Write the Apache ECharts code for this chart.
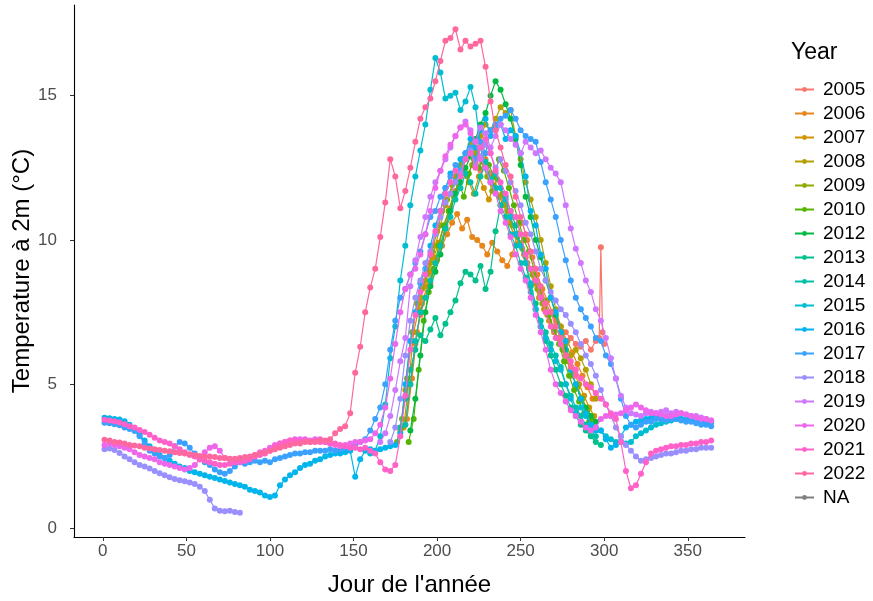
<!DOCTYPE html>
<html><head><meta charset="utf-8">
<script src="https://cdn.jsdelivr.net/npm/echarts@6/dist/echarts.min.js"></script>
<style>html,body{margin:0;padding:0;background:#fff}#c{width:873px;height:601px}</style>
</head><body><div id="c"></div>
<script>
const years = ['2005','2006','2007','2008','2009','2010','2012','2013','2014','2015','2016','2017','2018','2019','2020','2021','2022','NA'];
const colors = ['#F8766D','#E7861B','#D19400','#B3A000','#8FAA00','#55B400','#00BA42','#00C08B','#00C1A7','#00BDD1','#00B5EC','#3AA1FF','#9A8FFF','#CF78FF','#EE67EB','#FF61C9','#FF689F','#7F7F7F'];
const xTicks = [0,50,100,150,200,250,300,350];
const yTicks = [0,5,10,15];

// each year: list of [startDay, stepDays, values]
const t2005 = [[181,3,[3.6,5.0,6.4,7.4,8.0,8.5,9.2,9.8,10.5,11.1,
  11.7,12.2,12.8,13.2,12.9,12.4,12.8,12.3,11.8,11.5,
  11.2,10.8,10.2,9.8,9.4,9.0,8.6,8.2,7.8,7.5,
  7.2,7.0,6.8,6.6,6.4,6.3,6.5,6.2,6.5]],[297,1,[6.6,9.75,6.8,6.4]]];
const t2006 = [[182,3,[3.8,5.2,6.8,7.8,8.4,8.9,9.3,9.8,10.2,10.6,
  10.9,10.4,10.7,10.1,10.0,9.8,9.5,9.9,9.6,9.3,
  9.1,9.5,10.2,10.6,10.0,9.4,8.8,8.3,7.9,7.5,
  7.1,6.8,6.5,6.1,5.7,5.3,4.9,4.5]]];
const t2007 = [[180,3,[3.5,5.0,6.8,7.6,8.4,8.9,9.4,9.9,10.5,11.0,
  11.5,11.9,12.4,12.0,11.6,12.2,11.8,11.4,11.9,11.5,
  11.2,10.6,10.2,9.9,9.5,9.0,8.5,8.0,7.6,7.2,
  6.8,6.6,6.2,5.8,5.4,5.0,4.6,4.2,3.9]]];
const t2008 = [[178,3,[3.4,4.8,6.5,7.5,8.0,8.6,9.2,9.8,10.5,11.2,
  11.6,12.2,12.6,13.0,13.3,13.0,13.6,14.0,13.8,14.2,
  14.6,14.4,14.5,13.6,12.8,12.0,11.4,10.8,10.0,9.2,
  8.4,7.6,7.0,6.4,6.0,6.2,5.9,5.5,5.0,4.5]]];
const t2009 = [[176,3,[3.0,3.8,5.2,6.8,7.8,8.3,8.8,9.6,10.3,11.0,
  11.4,11.9,12.3,12.8,12.2,12.6,13.1,12.7,12.2,11.7,
  12.1,11.6,11.0,10.5,10.1,9.7,9.2,8.8,8.3,7.8,
  7.4,7.0,6.6,6.2,5.8,5.3,4.9,4.5,4.1,3.8]]];
const t2010 = [[183,3,[3.0,3.8,5.5,7.2,8.2,9.0,9.8,10.5,11.0,11.6,
  12.0,11.5,12.3,12.8,12.5,13.0,12.6,12.2,12.8,12.4,
  11.8,11.2,10.6,10.0,9.6,9.0,8.4,7.9,7.4,6.9,
  6.4,5.8,5.3,4.8,4.4,4.0,3.7,3.5]]];
const t2012 = [[184,3,[3.4,4.5,6.0,7.5,8.4,8.9,9.5,10.4,11.0,11.6,
  12.0,12.5,12.9,13.5,14.0,14.4,15.0,15.5,15.2,14.7,
  14.2,13.5,12.6,11.5,10.8,10.0,9.4,8.6,8.0,7.4,
  6.8,6.2,5.5,5.0,4.5,4.2,3.9,3.7]]];
const t2013 = [[178,3,[3.5,4.5,5.5,6.2,6.7,6.5,6.9,7.3,6.7,7.1,
  7.5,7.9,8.5,8.9,8.8,8.6,9.1,8.3,8.9,10.3,
  11.2,11.5,11.0,10.5,9.8,9.2,8.4,7.8,7.0,6.5,
  6.0,5.5,5.0,4.6,4.2,3.9,3.6,3.4,3.2,3.0,
  2.9]]];
const t2014 = [[181,3,[3.6,5.0,6.5,7.5,8.0,8.6,9.2,9.8,10.4,10.8,
  11.4,11.8,12.3,12.0,11.6,12.2,12.7,12.1,11.8,11.2,
  10.8,10.2,9.8,9.2,8.7,8.2,7.6,7.2,6.8,6.4,
  6.0,5.6,5.0,4.6,4.2,3.9,3.6,3.4,3.2]]];
const t2015 = [[160,3,[2.6,2.7,3.2,4.3,5.9,7.0,8.6,9.8,11.2,12.2,
  13.1,14.0,15.2,16.3,15.8,14.9,15.0,15.1,14.5,14.8,
  15.3,14.6,13.2,12.5,12.0,12.3,11.8,11.4,10.8,10.2,
  9.8,9.2,8.5,7.6,7.0,6.6,6.2,5.8,5.5,5.0,
  4.5,4.0,4.2,3.9,3.6,3.5,3.4,3.2,3.1,3.0,
  3.0,2.95,3.0,3.2,3.3,3.4,3.5,3.6,3.65,3.7,
  3.75,3.8,3.8,3.8,3.8,3.75,3.75,3.7,3.7]]];
const t2016 = [[1,3,[3.84,3.82,3.80,3.78,3.72,3.60,3.45,3.25,3.05,2.85,
  2.70,2.55,2.45,2.35,2.25,2.15,2.10,2.00,1.95,1.90,
  1.85,1.80,1.75,1.70,1.65,1.60,1.55,1.50,1.45,1.35,
  1.30,1.25,1.15,1.10,1.15,1.50,1.70,1.85,1.95,2.10,
  2.20,2.25,2.35,2.40,2.50,2.55,2.60,2.60,2.65,2.70,
  1.80,2.40,2.70,2.75,2.70,2.75,2.80,2.85,2.90,3.30,
  5.0,6.5,7.5,8.5,9.0,9.8,10.5,11.0,11.8,12.3,
  12.0,12.8,13.0,13.5,13.2,13.8,14.2,13.6,13.9,14.0,
  13.5,13.8,13.6,13.0,12.2,11.0,10.5,9.5,9.0,8.0,
  7.5,6.8,6.5,5.5,5.0,4.5,4.0,3.6,3.4,3.4,
  3.1,2.8,2.9,3.2,3.5,3.6,3.7,3.75,3.8,3.85,
  3.9,3.85,3.9,3.9,3.85,3.8,3.8,3.85,3.8,3.75,
  3.7,3.7]]];
const t2017 = [[1,3,[3.67,3.65,3.62,3.58,3.50,3.45,3.38,3.20,2.95,2.70,
  2.60,2.50,2.45,2.55,2.85,3.00,2.95,2.80,2.60,2.40,
  2.30,2.20,2.05,1.95,1.90,2.00,2.15,2.30,2.25,2.30,
  2.35,2.30,2.35,2.30,2.40,2.45,2.50,2.55,2.60,2.60,
  2.65,2.65,2.70,2.70,2.70,2.75,2.70,2.75,2.80,2.85,
  2.90,3.00,3.10,3.40,3.80,4.20,5.00,6.20,7.20,8.00,
  8.3,8.8,9.2,9.6,10.2,10.8,11.0,11.5,11.8,12.2,
  12.6,12.4,13.0,13.2,12.8,13.4,13.0,13.8,14.0,14.2,
  14.3,14.5,14.2,13.8,13.6,13.5,13.4,12.7,12.0,11.4,
  10.8,10.0,9.3,8.6,8.0,7.6,7.3,7.0,6.6,6.5,
  6.0,5.7,5.2,4.5,3.9,3.6,3.5,3.6,3.7,3.7,
  3.8,3.8,3.75,3.8,3.8,3.75,3.7,3.7,3.65,3.6,
  3.6,3.55]]];
const t2018 = [[1,3,[2.75,2.78,2.72,2.62,2.50,2.40,2.30,2.20,2.15,2.08,
  2.00,1.92,1.85,1.78,1.72,1.68,1.64,1.60,1.55,1.45,
  1.30,1.00,0.70,0.62,0.60,0.62,0.58,0.55]],
  [172,3,[3.0,3.5,4.5,6.0,7.2,8.0,8.6,9.2,9.6,10.2,10.8,11.3,11.6,
  12.0,12.3,12.8,13.1,12.6,12.9,13.3,13.0,12.5,12.8,
  12.4,12.0,11.7,11.2,10.6,10.2,9.6,9.0,8.6,8.2,
  7.9,7.6,7.4,7.1,6.8,6.4,6.0,5.7,5.3,4.8,
  4.3,3.9,3.5,3.2,2.9,2.7,2.5,2.35,2.4,2.45,
  2.5,2.55,2.6,2.6,2.65,2.7,2.7,2.75,2.75,2.8,
  2.8,2.8]]];
const t2019 = [[166,3,[3.0,3.3,3.9,4.8,5.8,6.6,8.4,9.3,10.1,10.8,
  11.5,12.0,12.4,12.8,13.2,13.6,13.9,14.1,13.8,13.4,
  13.9,13.7,13.2,13.6,14.0,13.8,13.5,13.3,13.0,13.4,
  13.2,13.0,13.1,12.8,12.5,12.3,12.0,11.2,10.4,9.7,
  9.2,8.6,8.2,7.6,7.2,6.6,5.9,5.2,4.6,4.2,
  4.0,3.95,3.9,4.0,4.05,4.0,4.05,4.1,4.0,4.05,
  4.0,3.95,3.9,3.9,3.85,3.8,3.75]]];
const t2020 = [[1,3,[2.90,2.95,2.90,2.85,2.80,2.75,2.65,2.55,2.50,2.45,
  2.40,2.30,2.25,2.20,2.15,2.10,2.05,2.10,2.20,2.40,
  2.65,2.80,2.85,2.70,2.45,2.40,2.35,2.30,2.35,2.45,
  2.55,2.65,2.70,2.80,2.90,2.95,3.00,3.05,3.10,3.10,
  3.10,3.05,3.10,3.10,3.00,2.95,2.90,2.85,2.90,2.95,
  3.00,3.00,3.05,3.10,3.30,3.60,4.20,5.20,6.40,7.50,
  8.3,8.8,9.0,9.5,10.2,11.0,11.8,12.4,12.9,13.3,
  13.6,13.9,14.0,13.7,13.4,12.8,12.5,12.0,11.6,11.0,
  10.6,10.1,9.5,9.0,8.6,8.0,7.4,6.8,6.2,5.5,
  5.0,4.7,4.4,4.1,3.9,3.7,3.5,3.4,3.5,3.8,
  3.9,3.9,3.95,4.0,4.1,4.2,4.3,4.2,4.1,4.0,
  4.0,3.95,3.9,3.9,3.95,4.0,3.95,3.9,3.85,3.8,
  3.8,3.75]]];
const t2021 = [[1,3,[3.77,3.75,3.72,3.68,3.62,3.55,3.50,3.42,3.35,3.25,
  3.15,3.05,3.00,2.95,2.85,2.75,2.65,2.55,2.50,2.40,
  2.35,2.30,2.25,2.20,2.20,2.25,2.30,2.35,2.35,2.40,
  2.50,2.55,2.60,2.70,2.85,2.95,3.00,3.05,3.05,3.00,
  3.05,3.00,3.05,3.00,3.00,2.95,2.95,2.90,2.85,2.80,
  2.80,2.75,2.80,2.70,2.60,2.30,2.05,2.00,2.20,3.20,
  4.6,6.2,7.4,8.2,8.8,9.5,10.3,11.0,11.6,12.0,
  12.4,12.2,12.8,13.0,12.5,13.2,13.5,13.0,12.4,12.0,
  11.6,11.0,10.8,10.2,9.5,9.0,8.6,8.0,7.5,7.0,
  6.6,6.4,6.0,5.8,5.5,5.2,5.0,4.9,4.7,4.5,
  4.3,4.0,3.8,3.0,2.0,1.4,1.5,1.9,2.3,2.6,
  2.7,2.75,2.8,2.85,2.85,2.9,2.9,2.95,2.95,3.0,
  3.0,3.05]]];
const t2022 = [[1,3,[3.08,3.05,3.00,2.98,2.95,2.90,2.88,2.85,2.80,2.78,
  2.75,2.72,2.70,2.68,2.65,2.62,2.60,2.58,2.55,2.52,
  2.50,2.50,2.48,2.45,2.45,2.42,2.42,2.45,2.48,2.50,
  2.55,2.60,2.65,2.70,2.75,2.80,2.85,2.90,2.95,2.95,
  3.00,3.00,3.00,3.05,3.05,3.10,3.30,3.45,3.55,4.00,
  5.4,6.3,7.5,8.35,9.0,10.1,11.3,12.8,12.2,11.1,
  11.7,12.5,13.4,14.2,14.6,14.9,15.5,16.2,16.9,17.0,
  17.3,16.6,16.9,16.7,16.8,16.9,16.0,14.8,13.8,13.2,
  12.6,12.2,11.5,10.8,10.2,9.6,9.0,8.4,7.8,7.5,
  7.0,6.6,6.0,5.6,5.3]]];
const tNA = [];

const allData = [t2005,t2006,t2007,t2008,t2009,t2010,t2012,t2013,t2014,t2015,t2016,t2017,t2018,t2019,t2020,t2021,t2022,tNA];

function build(segs){
  const out = [];
  let last = null;
  segs.forEach(function(seg){
    const s = seg[0], st = seg[1], vals = seg[2];
    if (last !== null && s - last > 3) out.push([(last + s) / 2, '-']);
    vals.forEach(function(v, i){ out.push([s + i * st, v]); last = s + i * st; });
  });
  return out;
}

const FONT = '"Liberation Sans", Arial, sans-serif';
const series = years.map(function(y, k){
  return {
    name: y, type: 'line', data: build(allData[k]),
    symbol: 'circle', symbolSize: 6, showSymbol: true,
    connectNulls: false,
    lineStyle: {width: 1.2, color: colors[k]},
    itemStyle: {color: colors[k]},
    emphasis: {disabled: true},
    z: 2 + k
  };
});

const chart = echarts.init(document.getElementById('c'), null, {renderer: 'canvas'});
chart.setOption({
  animation: false,
  backgroundColor: '#ffffff',
  textStyle: {fontFamily: FONT},
  color: colors,
  title: {text: 'Year', left: 786, top: 36, textStyle: {fontSize: 23, fontWeight: 'normal', color: '#000', fontFamily: FONT}},
  legend: {
    data: years, orient: 'vertical', left: 789, top: 75,
    itemWidth: 19, itemHeight: 6, itemGap: 5,
    textStyle: {fontSize: 19, color: '#000', padding: [0,0,0,4], fontFamily: FONT},
    selectedMode: false
  },
  grid: {left: 74, right: 128, top: 5, bottom: 64, containLabel: false, outerBoundsMode: 'none'},
  xAxis: {
    type: 'value', min: -17.25, max: 384.25,
    name: "Jour de l'année", nameLocation: 'middle', nameGap: 36, nameMoveOverlap: false,
    nameTextStyle: {fontSize: 24, color: '#000', fontFamily: FONT},
    axisLine: {show: true, onZero: false, lineStyle: {color: '#000', width: 1.1}},
    axisTick: {show: true, length: 4, customValues: xTicks, lineStyle: {color: '#333'}},
    axisLabel: {customValues: xTicks, color: '#4D4D4D', fontSize: 17, margin: 6, fontFamily: FONT},
    splitLine: {show: false}
  },
  yAxis: {
    type: 'value', min: -0.29, max: 18.14,
    name: 'Temperature à 2m (°C)', nameLocation: 'middle', nameGap: 40, nameRotate: 90, nameMoveOverlap: false,
    nameTextStyle: {fontSize: 24, color: '#000', fontFamily: FONT},
    axisLine: {show: true, onZero: false, lineStyle: {color: '#000', width: 1.1}},
    axisTick: {show: true, length: 4, customValues: yTicks, lineStyle: {color: '#333'}},
    axisLabel: {customValues: yTicks, color: '#4D4D4D', fontSize: 17, margin: 17, fontFamily: FONT},
    splitLine: {show: false}
  },
  series: series
});
</script>
</body></html>
